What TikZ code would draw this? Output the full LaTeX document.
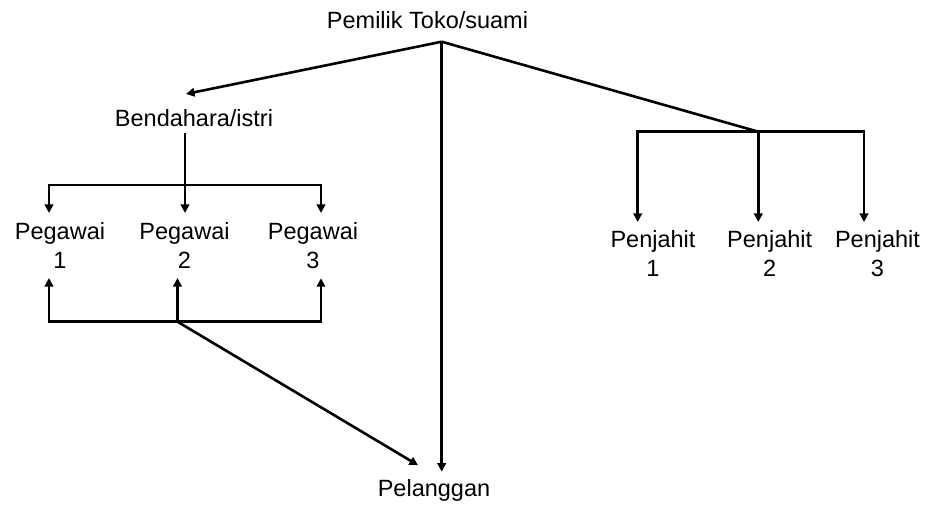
\documentclass[tikz,border=0pt]{standalone}
\usepackage{fontspec}
\setmainfont{Liberation Sans}
\usetikzlibrary{arrows.meta,calc}
\tikzset{
  lbl/.style={font=\fontsize{23.5}{29}\selectfont, inner sep=0pt, outer sep=0pt, align=center, anchor=base},
  ln/.style={line width=2.6pt, line join=miter, line cap=butt},
  arr/.style={ln, -{Triangle[length=8.5pt,width=8.5pt]}},
  darr/.style={ln, {Triangle[length=8.5pt,width=8.5pt]}-{Triangle[length=8.5pt,width=8.5pt]}}
}
\begin{document}
\begin{tikzpicture}[x=1pt,y=-1pt]
\useasboundingbox (0,0) rectangle (930,504);
% nodes (base anchor = baseline of last line)
\node[lbl] (own) at (427.5,28) {Pemilik Toko/suami};
\node[lbl] (bend) at (194,126) {Bendahara/istri};
\node[lbl] (p1) at (60,268) {Pegawai\\1};
\node[lbl] (p2) at (184.5,268) {Pegawai\\2};
\node[lbl] (p3) at (313,268) {Pegawai\\3};
\node[lbl] (j1) at (653,276) {Penjahit\\1};
\node[lbl] (j2) at (769.7,276) {Penjahit\\2};
\node[lbl] (j3) at (877.5,276) {Penjahit\\3};
\node[lbl] (pel) at (434,496.7) {Pelanggan};
% junctions
\coordinate (apex) at (441.7,41.7);
\coordinate (jr) at (758.3,131.7);
\coordinate (jrl) at (637.7,131.7);
\coordinate (jrr) at (864,131.7);
\coordinate (bl) at (49,185);
\coordinate (bc) at (185,185);
\coordinate (br) at (321,185);
\coordinate (ul) at (49,321.7);
\coordinate (uc) at (177.5,321.7);
\coordinate (ur) at (321,321.7);
% owner connectors
\draw[arr] (apex) -- ($(bend.north)+(-8,-15)$);
\draw[arr] (apex) -- ($(apex |- pel.north)+(0,-8)$);
\draw[ln] (apex) -- (jr);
% tailors
\draw[darr] ($(jrl |- j1.north)+(0,-8)$) -- (jrl) -- (jrr) -- ($(jrr |- j3.north)+(0,-8)$);
\draw[arr] (jr) -- ($(jr |- j2.north)+(0,-8)$);
% treasurer to staff
\draw[arr] ($(bc |- bend.south)+(0,7)$) -- ($(bc |- p2.north)+(0,-9)$);
\draw[darr] ($(bl |- p1.north)+(0,-9)$) -- (bl) -- (br) -- ($(br |- p3.north)+(0,-9)$);
% staff to customer
\draw[darr] ($(ul |- p1.south)+(0,10)$) -- (ul) -- (ur) -- ($(ur |- p3.south)+(0,10)$);
\draw[arr] (uc) -- ($(uc |- p2.south)+(0,10)$);
\draw[arr] (uc) -- ($(pel.north)+(-16,-14.5)$);
\end{tikzpicture}
\end{document}
